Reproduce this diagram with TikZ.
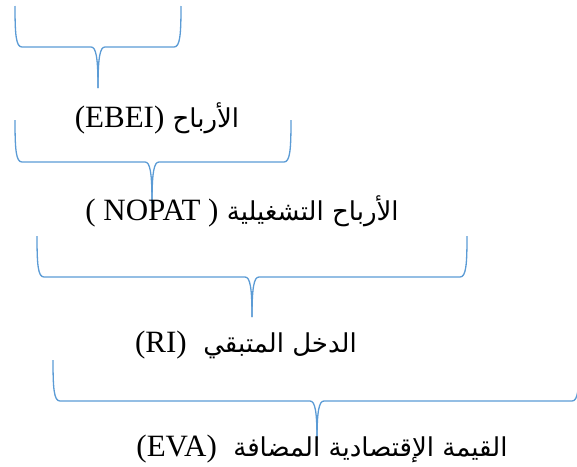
\documentclass[tikz,border=0pt]{standalone}
\usepackage{fontspec}
\setmainfont{Liberation Serif}
\newfontfamily\latinfont{Liberation Serif}
\newfontfamily\arabicfont[Script=Arabic]{DejaVu Sans}
\TeXXeTstate=1

% curly bracket opening downwards: left x, right x, top y, bar y, tip x, tip end y
\newcommand\drawbrace[6]{%
  \draw[bracestyle] (#1,#3) .. controls (#1,#4-12) and (#1+1,#4) .. (#1+7,#4)
    -- (#5-7,#4) .. controls (#5-2,#4) and (#5,#4+10) .. (#5,#6);
  \draw[bracestyle] (#2,#3) .. controls (#2,#4-12) and (#2-1,#4) .. (#2-7,#4)
    -- (#5+7,#4) .. controls (#5+2,#4) and (#5,#4+10) .. (#5,#6);
}
\newcommand\arsize{\arabicfont\fontsize{26}{32}\selectfont}
\newcommand\lasize{\latinfont\fontsize{31}{36}\selectfont}

\definecolor{braceblue}{RGB}{91,155,213}

\begin{document}
\begin{tikzpicture}[x=1pt,y=-1pt,
  bracestyle/.style={draw=braceblue,line width=1.3pt},
  lbl/.style={anchor=base,inner sep=0pt}]
\useasboundingbox (0,0) rectangle (577,466);
\clip (0,0) rectangle (577,466);

\drawbrace{15}{181}{6}{47}{98}{88}
\node[lbl] (ebei) at (157,127)
  {\arsize\beginR الأرباح \beginL\lasize(EBEI)\endL\endR};

\drawbrace{15}{291}{120}{162}{152}{203}
\node[lbl] (nopat) at (242,220)
  {\arsize\beginR الأرباح التشغيلية \beginL\lasize( NOPAT )\endL\endR};

\drawbrace{37}{467}{236}{277}{252}{317}
\node[lbl] (ri) at (246,352)
  {\arsize\beginR الدخل المتبقي\ \ \beginL\lasize(RI)\endL\endR};

\drawbrace{53}{579}{360}{401}{317}{440}
\node[lbl] (eva) at (322,456)
  {\arsize\beginR القيمة الإقتصادية المضافة\ \ \beginL\lasize(EVA)\endL\endR};
\end{tikzpicture}
\end{document}
